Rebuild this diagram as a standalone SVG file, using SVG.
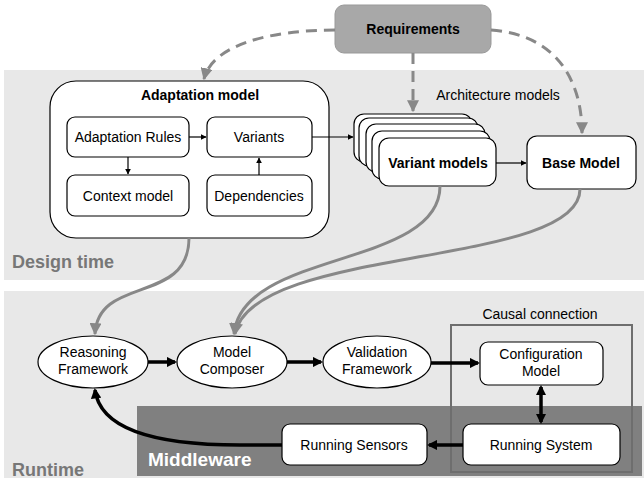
<svg xmlns="http://www.w3.org/2000/svg" width="644" height="483" viewBox="0 0 644 483">
<defs>
<style>
text{font-family:"Liberation Sans",Arial,sans-serif;font-size:14px;fill:#000;text-anchor:middle}
.b{font-weight:bold}
.box{fill:#fff;stroke:#000;stroke-width:1.2}
.ell{fill:#fff;stroke:#000;stroke-width:1.2}
.gc{fill:none;stroke:#888;stroke-width:3}
.dash{fill:none;stroke:#888;stroke-width:3;stroke-dasharray:11 7}
.thin{fill:none;stroke:#000;stroke-width:1.2}
.thick{fill:none;stroke:#000;stroke-width:3.5}
.panel{fill:#e8e8e8}
.lbl{font-weight:bold;font-size:18px;fill:#777;text-anchor:start}
</style>
<marker id="ag" viewBox="0 0 10 10" refX="9" refY="5" markerWidth="4" markerHeight="4" orient="auto"><path d="M0,0 L10,5 L0,10 z" fill="#888"/></marker>
<marker id="as" viewBox="0 0 10 10" refX="9" refY="5" markerWidth="6" markerHeight="6" markerUnits="userSpaceOnUse" orient="auto"><path d="M0,0 L10,5 L0,10 z" fill="#000"/></marker>
<marker id="ak" viewBox="0 0 10 10" refX="8" refY="5" markerWidth="3" markerHeight="3" orient="auto-start-reverse"><path d="M0,0 L10,5 L0,10 z" fill="#000"/></marker>
</defs>
<rect width="644" height="483" fill="#fff"/>
<rect class="panel" x="4" y="70" width="640" height="210"/>
<rect class="panel" x="4" y="291" width="640" height="187"/>
<rect x="137" y="406" width="505" height="70" fill="#808080"/>
<text class="lbl" x="12" y="268">Design time</text>
<text class="lbl" x="12" y="476">Runtime</text>
<text x="148" y="466" style="font-weight:bold;font-size:19px;fill:#fff;text-anchor:start">Middleware</text>
<text x="498" y="100">Architecture models</text>
<text x="540" y="319">Causal connection</text>
<rect x="451" y="325" width="181" height="147" fill="none" stroke="#6e6e6e" stroke-width="2"/>

<g id="requirements"><rect x="335" y="5" width="156" height="48" rx="9" fill="#a8a8a8" stroke="#999"/><text class="b" x="413" y="34">Requirements</text></g>
<g id="adaptation-model"><rect class="box" x="50" y="81" width="279" height="157" rx="26"/><text class="b" x="200" y="100">Adaptation model</text></g>
<g id="adaptation-rules"><rect class="box" x="67" y="117" width="122" height="40" rx="8"/><text x="128" y="142">Adaptation Rules</text></g>
<g id="variants"><rect class="box" x="207" y="117" width="105" height="40" rx="8"/><text x="259" y="142">Variants</text></g>
<g id="context-model"><rect class="box" x="67" y="175" width="122" height="41" rx="8"/><text x="128" y="201">Context model</text></g>
<g id="dependencies"><rect class="box" x="207" y="175" width="105" height="41" rx="8"/><text x="259" y="201">Dependencies</text></g>
<g id="variant-models">
<rect class="box" x="354" y="114" width="118" height="48" rx="10"/>
<rect class="box" x="359" y="118" width="119" height="48" rx="10"/>
<rect class="box" x="366" y="124" width="119" height="48" rx="10"/>
<rect class="box" x="372" y="131" width="118" height="48" rx="10"/>
<rect class="box" x="379" y="138" width="117" height="48" rx="10"/>
<text class="b" x="438" y="168">Variant models</text></g>
<g id="base-model"><rect class="box" x="527" y="136" width="109" height="53" rx="10"/><text class="b" x="581" y="168">Base Model</text></g>
<g id="reasoning"><ellipse class="ell" cx="93" cy="362" rx="55" ry="26"/><text x="93" y="357">Reasoning</text><text x="93" y="374">Framework</text></g>
<g id="composer"><ellipse class="ell" cx="232" cy="362" rx="55" ry="26"/><text x="232" y="357">Model</text><text x="232" y="374">Composer</text></g>
<g id="validation"><ellipse class="ell" cx="377" cy="362" rx="54" ry="26"/><text x="377" y="357">Validation</text><text x="377" y="374">Framework</text></g>
<g id="config"><rect class="box" x="480" y="342" width="123" height="43" rx="8"/><text x="541" y="359">Configuration</text><text x="541" y="376">Model</text></g>
<g id="running-system"><rect class="box" x="463" y="424" width="157" height="41" rx="8"/><text x="541" y="450">Running System</text></g>
<g id="running-sensors"><rect class="box" x="282" y="424" width="145" height="41" rx="8"/><text x="354" y="450">Running Sensors</text></g>

<g id="connectors">
<path class="dash" d="M335,30 C270,30 212,45 204,79" marker-end="url(#ag)"/>
<path class="dash" d="M413,53 L413,111" marker-end="url(#ag)"/>
<path class="dash" d="M491,30 C560,35 582,85 582,133" marker-end="url(#ag)"/>
<path class="thin" d="M189,137 L206,137" marker-end="url(#as)"/>
<path class="thin" d="M128,157 L128,174" marker-end="url(#as)"/>
<path class="thin" d="M259,175 L259,158" marker-end="url(#as)"/>
<path class="thin" d="M312,137 L353,137" marker-end="url(#as)"/>
<path class="thin" d="M496,163 L526,163" marker-end="url(#as)"/>
<path class="gc" d="M189,238 C189,305 98,275 95,334" marker-end="url(#ag)"/>
<path class="gc" d="M440,186 C440,268 242,250 234,334" marker-end="url(#ag)"/>
<path class="gc" d="M580,189 C580,268 252,245 235,334" marker-end="url(#ag)"/>
<path class="thick" d="M148,362 L175,362" marker-end="url(#ak)"/>
<path class="thick" d="M287,362 L321,362" marker-end="url(#ak)"/>
<path class="thick" d="M431,363 L478,363" marker-end="url(#ak)"/>
<path class="thick" d="M541,387 L541,422" marker-start="url(#ak)" marker-end="url(#ak)"/>
<path class="thick" d="M463,445 L429,445" marker-end="url(#ak)"/>
<path class="thick" d="M282,445 L240,445 C150,445 100,428 95,390" marker-end="url(#ak)"/>
</g>
</svg>
